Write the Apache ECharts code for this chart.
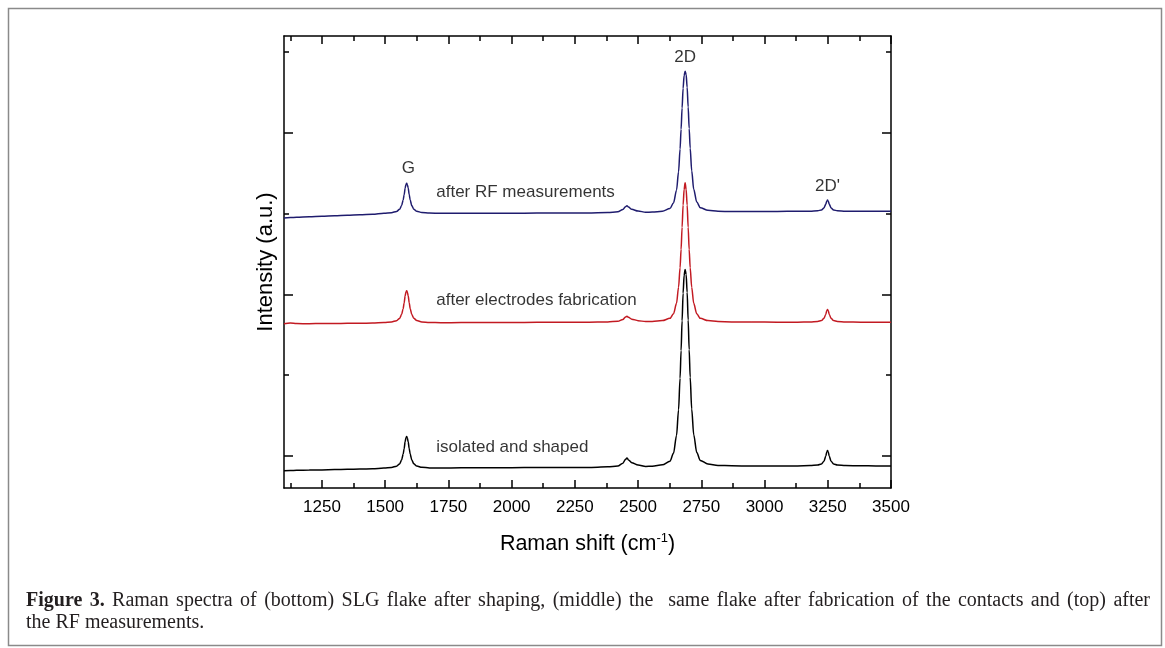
<!DOCTYPE html>
<html>
<head>
<meta charset="utf-8">
<script src="https://cdn.jsdelivr.net/npm/echarts@6/dist/echarts.min.js"></script>
<style>
  html, body { margin: 0; padding: 0; background: #fff; }
  #chart { width: 1165px; height: 648px; }
</style>
</head>
<body>
<div id="chart"></div>
<script>
// Raman shift sampling (cm^-1), shared by the three spectra
const ramanShift = [
  1100, 1125, 1150, 1200, 1250, 1300, 1350, 1400, 1450,
  1495, 1525, 1545, 1557, 1565, 1571, 1575, 1579, 1582, 1585, 1588, 1591, 1595, 1599, 1605, 1613, 1625, 1645, 1675,
  1720, 1800, 1900, 2000, 2100, 2200, 2300,
  2380, 2420, 2440, 2450, 2456, 2462, 2475, 2500, 2530,
  2556, 2596, 2626, 2640, 2652, 2660, 2666, 2670, 2674, 2678, 2682, 2686, 2690, 2694, 2698, 2702, 2706, 2712, 2720, 2732, 2746, 2776, 2816,
  2870, 2950, 3050, 3130,
  3180, 3210, 3225, 3235, 3242, 3246, 3249, 3252, 3256, 3263, 3273, 3288, 3320,
  3380, 3440, 3500
];

// Intensity (a.u., vertically offset) — bottom spectrum
const isolatedShaped = [
  -0.186, -0.183, -0.181, -0.177, -0.176, -0.172, -0.169, -0.166, -0.162,
  -0.152, -0.145, -0.129, -0.102, -0.054, 0.017, 0.088, 0.175, 0.218, 0.238, 0.216, 0.172, 0.090, 0.020, -0.050, -0.100, -0.128, -0.144, -0.151,
  -0.152, -0.150, -0.149, -0.148, -0.147, -0.146, -0.145,
  -0.138, -0.127, -0.092, -0.046, -0.029, -0.052, -0.086, -0.115, -0.133,
  -0.130, -0.113, -0.068, 0.030, 0.250, 0.569, 0.961, 1.304, 1.671, 2.014, 2.235, 2.308, 2.245, 2.024, 1.681, 1.314, 0.971, 0.579, 0.260, 0.040, -0.058, -0.103, -0.120,
  -0.124, -0.128, -0.127, -0.126,
  -0.122, -0.115, -0.102, -0.068, -0.007, 0.046, 0.065, 0.046, -0.007, -0.068, -0.102, -0.115, -0.122,
  -0.124, -0.126, -0.127
];

// Middle spectrum
const afterElectrodes = [
  1.634, 1.645, 1.637, 1.636, 1.638, 1.639, 1.640, 1.641, 1.643,
  1.650, 1.657, 1.673, 1.701, 1.749, 1.821, 1.893, 1.981, 2.025, 2.045, 2.023, 1.983, 1.896, 1.823, 1.751, 1.703, 1.675, 1.658, 1.651,
  1.648, 1.649, 1.650, 1.651, 1.652, 1.653, 1.654,
  1.658, 1.665, 1.688, 1.718, 1.729, 1.714, 1.692, 1.673, 1.662,
  1.662, 1.674, 1.702, 1.759, 1.888, 2.087, 2.329, 2.554, 2.830, 3.107, 3.297, 3.383, 3.297, 3.107, 2.830, 2.554, 2.329, 2.087, 1.888, 1.759, 1.702, 1.674, 1.662,
  1.658, 1.656, 1.655, 1.655,
  1.657, 1.663, 1.674, 1.702, 1.751, 1.795, 1.810, 1.795, 1.751, 1.702, 1.674, 1.663, 1.657,
  1.655, 1.654, 1.654
];

// Top spectrum
const afterRF = [
  2.945, 2.950, 2.953, 2.960, 2.967, 2.974, 2.980, 2.986, 2.992,
  3.005, 3.011, 3.026, 3.053, 3.098, 3.165, 3.233, 3.315, 3.356, 3.375, 3.354, 3.317, 3.236, 3.168, 3.100, 3.055, 3.029, 3.013, 3.006,
  3.003, 3.003, 3.004, 3.005, 3.006, 3.007, 3.008,
  3.013, 3.022, 3.049, 3.085, 3.098, 3.080, 3.053, 3.031, 3.017,
  3.018, 3.030, 3.062, 3.132, 3.290, 3.518, 3.799, 4.044, 4.308, 4.553, 4.711, 4.764, 4.722, 4.564, 4.319, 4.055, 3.810, 3.529, 3.301, 3.143, 3.073, 3.041, 3.029,
  3.025, 3.026, 3.027, 3.028,
  3.030, 3.035, 3.045, 3.070, 3.115, 3.154, 3.168, 3.154, 3.115, 3.070, 3.045, 3.035, 3.030,
  3.029, 3.030, 3.030
];

// Axis ticks
const xMajorTicks = [1250, 1500, 1750, 2000, 2250, 2500, 2750, 3000, 3250, 3500];
const xMinorTicks = [1125, 1375, 1625, 1875, 2125, 2375, 2625, 2875, 3125, 3375];
const yMajorTicks = [0, 2, 4];
const yMinorTicks = [1, 3, 5];

// Peak and spectrum annotations
const peakNames = ['G', '2D', "2D'"];
const peakNameX = [1592, 2686, 3249];
const peakNameY = [3.56, 4.94, 3.34];
const curveNames = ['after RF measurements', 'after electrodes fabrication', 'isolated and shaped'];
const curveNameX = [1700, 1700, 1700];
const curveNameY = [3.26, 1.93, 0.10];

// Caption text
const captionLabel = 'Figure 3.';
const captionLine1 = 'Raman spectra of (bottom) SLG flake after shaping, (middle) the  same flake after fabrication of the contacts and (top) after';
const captionLine2 = 'the RF measurements.';

const SANS = 'Liberation Sans, Arial, sans-serif';
const SERIF = '"Liberation Serif", "Times New Roman", serif';

const X_MIN = 1100, X_MAX = 3500, Y_MIN = -0.4, Y_MAX = 5.2;

const toPairs = (ys) => ramanShift.map((x, i) => [x, ys[i]]);

function xAxisDef(position, ticks, len, showLine, showLabels) {
  return {
    type: 'value', position: position, min: X_MIN, max: X_MAX, gridIndex: 0,
    axisLine: { show: showLine, onZero: false, lineStyle: { color: '#000', width: 1.5 } },
    axisTick: { show: true, inside: true, length: len, customValues: ticks, lineStyle: { color: '#000', width: 1.5 } },
    axisLabel: showLabels
      ? { show: true, customValues: ticks, margin: 11, color: '#000', fontSize: 17, fontFamily: SANS, formatter: (v) => String(v) }
      : { show: false },
    splitLine: { show: false }
  };
}

function yAxisDef(position, ticks, len, showLine) {
  return {
    type: 'value', position: position, min: Y_MIN, max: Y_MAX, gridIndex: 0,
    axisLine: { show: showLine, onZero: false, lineStyle: { color: '#000', width: 1.5 } },
    axisTick: { show: true, inside: true, length: len, customValues: ticks, lineStyle: { color: '#000', width: 1.5 } },
    axisLabel: { show: false },
    splitLine: { show: false }
  };
}

const xBottom = xAxisDef('bottom', xMajorTicks, 8, true, true);
xBottom.name = '{a|Raman shift (cm}{s|-1}{a|)}';
xBottom.nameLocation = 'middle';
xBottom.nameGap = 44;
xBottom.nameTextStyle = {
  rich: {
    a: { fontSize: 21.5, fontFamily: SANS, color: '#000' },
    s: { fontSize: 13, fontFamily: SANS, color: '#000', padding: [0, 0, 12, 0] }
  }
};

const yLeft = yAxisDef('left', yMajorTicks, 9, true);
yLeft.name = 'Intensity (a.u.)';
yLeft.nameLocation = 'middle';
yLeft.nameGap = 7;
yLeft.nameTextStyle = { fontSize: 22, fontFamily: SANS, color: '#000' };

const lineSeries = (name, ys, color) => ({
  name: name, type: 'line', xAxisIndex: 0, yAxisIndex: 0,
  data: toPairs(ys), showSymbol: false, symbol: 'none',
  smooth: 0.3, smoothMonotone: 'x',
  lineStyle: { color: color, width: 1.5 }, silent: true, z: 3
});

const annotationSeries = (names, xs, ys, position) => ({
  type: 'scatter', xAxisIndex: 0, yAxisIndex: 0, silent: true,
  symbolSize: 1, itemStyle: { color: 'rgba(0,0,0,0)' },
  data: names.map((t, i) => ({ value: [xs[i], ys[i]], name: t })),
  label: {
    show: true, position: position, distance: 0, formatter: (p) => p.name,
    color: '#000', fontSize: 17, fontFamily: SANS
  },
  z: 4
});

// Justified caption line: spread words so the line fills the given width
function justifiedLine(words, fonts, x0, x1, top) {
  const ctx = document.createElement('canvas').getContext('2d');
  const widths = words.map((w, i) => { ctx.font = fonts[i]; return ctx.measureText(w).width; });
  const total = widths.reduce((a, b) => a + b, 0);
  const gap = (x1 - x0 - total) / (words.length - 1);
  const out = [];
  let x = x0;
  words.forEach((w, i) => {
    if (w.length) {
      out.push({ type: 'text', left: Math.round(x * 10) / 10, top: top, silent: true,
                 style: { text: w, font: fonts[i], fill: '#231f20' } });
    }
    x += widths[i] + gap;
  });
  return out;
}

const CAP_FONT = '20px ' + SERIF;
const CAP_BOLD = 'bold 20px ' + SERIF;
const capWords = captionLabel.split(' ').concat(captionLine1.split(' '));
const capFonts = capWords.map((w, i) => (i < 2 ? CAP_BOLD : CAP_FONT));

const chart = echarts.init(document.getElementById('chart'), null, { renderer: 'canvas' });

chart.setOption({
  animation: false,
  backgroundColor: '#fff',
  grid: { left: 284, top: 36, width: 607, height: 452, containLabel: false },
  xAxis: [
    xBottom,
    xAxisDef('bottom', xMinorTicks, 5, false, false),
    xAxisDef('top', xMajorTicks, 8, true, false),
    xAxisDef('top', xMinorTicks, 5, false, false)
  ],
  yAxis: [
    yLeft,
    yAxisDef('left', yMinorTicks, 5, false),
    yAxisDef('right', yMajorTicks, 9, true),
    yAxisDef('right', yMinorTicks, 5, false)
  ],
  series: [
    lineSeries('isolated and shaped', isolatedShaped, '#000000'),
    lineSeries('after electrodes fabrication', afterElectrodes, '#c21a22'),
    lineSeries('after RF measurements', afterRF, '#1f1c6e'),
    annotationSeries(peakNames, peakNameX, peakNameY, 'inside'),
    annotationSeries(curveNames, curveNameX, curveNameY, 'right')
  ],
  graphic: [
    {
      type: 'rect', left: 6, top: 6, silent: true,
      shape: { width: 1153, height: 637 },
      style: { fill: 'none', stroke: '#8a8a8a', lineWidth: 1.5 }
    },
    ...justifiedLine(capWords, capFonts, 26, 1150, 591),
    {
      type: 'text', left: 26, top: 613, silent: true,
      style: { text: captionLine2, font: CAP_FONT, fill: '#231f20' }
    }
  ]
});
</script>
</body>
</html>
